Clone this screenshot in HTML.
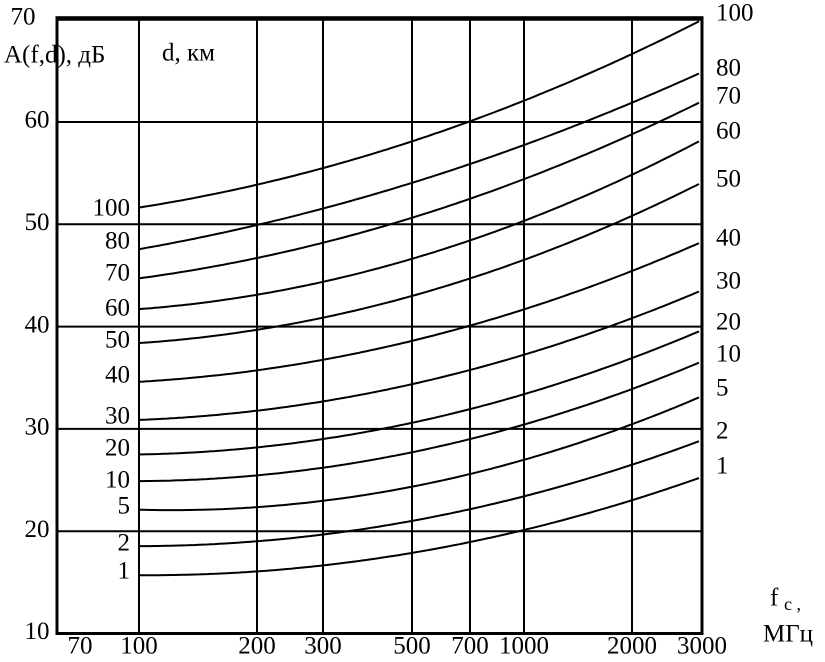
<!DOCTYPE html>
<html><head><meta charset="utf-8"><style>
html,body{margin:0;padding:0;background:#fff;}
svg{display:block;font-family:"Liberation Serif",serif;}
</style></head><body>
<svg id="chart" width="825" height="662" viewBox="0 0 825 662"></svg>
<script>
const freqTicks = [100, 200, 300, 500, 700, 1000, 2000, 3000];
const freqTickLabels = ["100", "200", "300", "500", "700", "1000", "2000", "3000"];
const dbTicks = [10, 20, 30, 40, 50, 60, 70];
const distances = [100, 80, 70, 60, 50, 40, 30, 20, 10, 5, 2, 1];
const loss100 = [51.6, 53.9, 55.5, 58.1, 60.2, 62.1, 66.3, 70.2];
const loss80 = [47.6, 49.9, 51.5, 54.0, 56.0, 57.8, 61.8, 64.9];
const loss70 = [44.6, 46.8, 48.3, 50.7, 52.6, 54.3, 58.3, 62.4];
const loss60 = [41.5, 43.3, 44.5, 46.8, 48.6, 50.1, 54.0, 58.9];
const loss50 = [38.4, 39.7, 40.8, 42.9, 44.9, 46.7, 50.4, 54.3];
const loss40 = [34.6, 35.6, 36.8, 38.9, 40.2, 41.4, 45.2, 48.5];
const loss30 = [31.0, 31.6, 32.6, 34.3, 36.0, 37.4, 40.6, 43.6];
const loss20 = [27.5, 28.1, 29.1, 30.6, 32.0, 33.5, 36.5, 39.9];
const loss10 = [24.9, 25.4, 26.3, 27.6, 29.1, 30.5, 33.7, 36.7];
const loss5 = [22.0, 22.5, 23.0, 24.3, 25.7, 26.9, 30.2, 33.4];
const loss2 = [18.5, 19.0, 19.8, 20.9, 22.3, 23.4, 26.2, 29.1];
const loss1 = [15.6, 16.2, 16.7, 17.9, 19.0, 20.0, 22.8, 25.5];
const series = [loss100, loss80, loss70, loss60, loss50, loss40, loss30, loss20, loss10, loss5, loss2, loss1];

const NS = "http://www.w3.org/2000/svg";
const svg = document.getElementById("chart");
const tickPx = [139, 257, 323, 412, 470, 524, 632, 702];
function xScale(f) {
  const lf = Math.log10(f);
  const lt = freqTicks.map(Math.log10);
  let i = 0;
  if (lf <= lt[0]) i = 0; else if (lf >= lt[lt.length-1]) i = lt.length-2;
  else { while (lf > lt[i+1]) i++; }
  return tickPx[i] + (lf - lt[i]) / (lt[i+1] - lt[i]) * (tickPx[i+1] - tickPx[i]);
}
function yScale(v) { return 122 + (60 - v) * 10.23; }
const L = 57, R = 702, T = yScale(70), B = yScale(10);

function el(tag, attrs, parent) {
  const e = document.createElementNS(NS, tag);
  for (const k in attrs) e.setAttribute(k, attrs[k]);
  (parent || svg).appendChild(e);
  return e;
}
function txt(x, y, s, anchor, size) {
  const t = el("text", {x: x, y: y, "text-anchor": anchor || "middle", "font-size": size || 25, fill: "#000", "dominant-baseline": "middle"});
  t.textContent = s;
  return t;
}
// least-squares quadratic fit in pixel space (smooth curve through read values)
function fitQuad(xs, ys) {
  let S = [[0,0,0],[0,0,0],[0,0,0]], V = [0,0,0];
  for (let i = 0; i < xs.length; i++) {
    const b = [1, xs[i], xs[i]*xs[i]];
    for (let r = 0; r < 3; r++) { V[r] += b[r]*ys[i]; for (let c = 0; c < 3; c++) S[r][c] += b[r]*b[c]; }
  }
  // gaussian elimination
  for (let k = 0; k < 3; k++) {
    for (let r = k+1; r < 3; r++) {
      const m = S[r][k]/S[k][k];
      for (let c = k; c < 3; c++) S[r][c] -= m*S[k][c];
      V[r] -= m*V[k];
    }
  }
  const a = [0,0,0];
  for (let r = 2; r >= 0; r--) {
    let s = V[r];
    for (let c = r+1; c < 3; c++) s -= S[r][c]*a[c];
    a[r] = s/S[r][r];
  }
  return x => a[0] + a[1]*x + a[2]*x*x;
}

dbTicks.forEach(v => {
  const g = el("line", {x1: L, x2: R, y1: yScale(v), y2: yScale(v), stroke: "#000", "stroke-width": 2});
  
  
  const t = txt(v === 70 ? 23 : 37, yScale(v) + (v === 70 ? -1 : 0), String(v));
  
  
});
freqTicks.forEach((f, i) => {
  const g = el("line", {x1: xScale(f), x2: xScale(f), y1: T, y2: B, stroke: "#000", "stroke-width": 2});
  
  
  const t = txt(xScale(f), 648, freqTickLabels[i]);
  
  
});
const t70 = txt(80, 648, "70");



const border = el("rect", {x: L, y: T - 2, width: R - L, height: B - T + 2, fill: "none", stroke: "#000", "stroke-width": 3});



const leftLabelY = [210, 243, 275, 310, 342, 377, 418, 450, 482, 508, 545, 573];
const rightLabelY = [15, 70, 98, 133, 181, 240, 283, 324, 356, 390, 433, 468];
series.forEach((vals, si) => {
  const xs = freqTicks.map(xScale);
  const ys = vals.map(yScale);
  const fn = fitQuad(xs, ys);
  let d = "";
  for (let x = xs[0]; x <= xs[xs.length-1] + 0.01; x += 4) {
    d += (d ? " L" : "M") + x.toFixed(1) + "," + fn(x).toFixed(1);
  }
  const p = el("path", {d: d, fill: "none", stroke: "#000", "stroke-width": 2});
  
  
  const lt = txt(130, leftLabelY[si], String(distances[si]), "end");
  
  
  const rt = txt(716, rightLabelY[si], String(distances[si]), "start");
  
  
});

const yt = txt(4, 57, "A(f,d),  дБ", "start");


const dt = txt(162, 55, "d, км", "start");


const xt1 = txt(770, 600, "f", "start");


const xs = txt(784, 606, "c ,", "start", 18);


const xu = txt(763, 636, "МГц", "start");


</script>
</body></html>
